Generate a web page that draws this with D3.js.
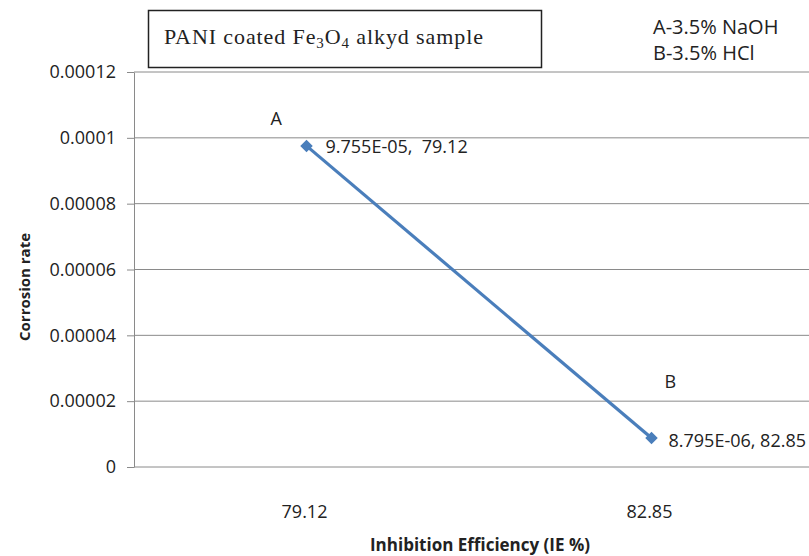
<!DOCTYPE html>
<html>
<head>
<meta charset="utf-8">
<script src="https://cdn.jsdelivr.net/npm/d3@7"></script>
<style>
  body { margin: 0; background: #fff; }
  text { font-family: "Open Sans", "DejaVu Sans", sans-serif; fill: #222; }
</style>
</head>
<body>
<div id="chart"></div>
<script>
const categories = ["79.12", "82.85"];
const rates = [9.755e-5, 8.795e-6];
const pointNames = ["A", "B"];
const pointLabels = ["9.755E-05,\u00a0 79.12", "8.795E-06, 82.85"];
const yTicks = [0, 0.00002, 0.00004, 0.00006, 0.00008, 0.0001, 0.00012];
const yTickLabels = ["0", "0.00002", "0.00004", "0.00006", "0.00008", "0.0001", "0.00012"];
const legendLines = ["A-3.5% NaOH", "B-3.5% HCl"];

const W = 809, H = 556;
const margin = {top: 72, right: -15, bottom: 89, left: 134},
    width = W - margin.left - margin.right,
    height = H - margin.top - margin.bottom;

const svg = d3.select("#chart")
    .append("svg")
    .attr("width", W)
    .attr("height", H);

const g = svg.append("g")
    .attr("transform", `translate(${margin.left},${margin.top})`);

let xScale = d3.scaleBand()
    .domain(categories)
    .range([0, width]);

let yScale = d3.scaleLinear()
    .domain([0, 0.00012])
    .range([height, 0]);

// gridlines
g.selectAll(".grid")
    .data(yTicks.slice(1))
    .enter().append("line")
    .attr("x1", 0)
    .attr("x2", W - margin.left)
    .attr("y1", d => yScale(d))
    .attr("y2", d => yScale(d))
    .attr("stroke", "#8a8a8a")
    .attr("stroke-width", 1);

// y axis
let yAxis = g.append("g")
    .call(d3.axisLeft(yScale)
        .tickValues(yTicks)
        .tickFormat((d, i) => yTickLabels[i])
        .tickSize(7)
        .tickSizeOuter(0));
yAxis.select(".domain").attr("stroke", "#8a8a8a");
yAxis.selectAll(".tick line").attr("stroke", "#8a8a8a");
yAxis.selectAll(".tick text")
    .attr("x", -18)
    .style("font-size", "18px")
    .style("font-family", "'Open Sans', sans-serif")
    .attr("fill", "#222");

// x axis line
g.append("line")
    .attr("x1", 0)
    .attr("x2", W - margin.left)
    .attr("y1", height)
    .attr("y2", height)
    .attr("stroke", "#8a8a8a");

g.selectAll(".xlab")
    .data(categories)
    .enter().append("text")
    .attr("x", d => xScale(d) + xScale.bandwidth() / 2 - 2)
    .attr("y", height + 51)
    .attr("text-anchor", "middle")
    .style("font-size", "18px")
    .text(d => d);

// line + markers
const pts = categories.map((c, i) => ({c: c, v: rates[i], name: pointNames[i], label: pointLabels[i]}));
let line = d3.line()
    .x(d => xScale(d.c) + xScale.bandwidth() / 2)
    .y(d => yScale(d.v));

g.append("path")
    .datum(pts)
    .attr("fill", "none")
    .attr("stroke", "#4a7ebb")
    .attr("stroke-width", 3.2)
    .attr("d", line);

g.selectAll(".mark")
    .data(pts)
    .enter().append("path")
    .attr("d", d3.symbol().type(d3.symbolDiamond2).size(100))
    .attr("transform", d => `translate(${xScale(d.c) + xScale.bandwidth() / 2},${yScale(d.v)})`)
    .attr("fill", "#4a7ebb");

g.selectAll(".plabel")
    .data(pts)
    .enter().append("text")
    .attr("x", d => xScale(d.c) + xScale.bandwidth() / 2 + (d.name === "A" ? 19 : 17))
    .attr("y", d => yScale(d.v) + (d.name === "A" ? 7 : 9))
    .style("font-size", "18px")
    .text(d => d.label);

g.selectAll(".pname")
    .data(pts)
    .enter().append("text")
    .attr("x", d => xScale(d.c) + xScale.bandwidth() / 2 + (d.name === "A" ? -36 : 13))
    .attr("y", d => yScale(d.v) + (d.name === "A" ? -21 : -50))
    .style("font-size", "18px")
    .text(d => d.name);

// axis titles
svg.append("text")
    .attr("x", 480)
    .attr("y", 551)
    .attr("text-anchor", "middle")
    .style("font-size", "17px")
    .style("font-weight", "bold")
    .text("Inhibition Efficiency (IE %)");

svg.append("text")
    .attr("transform", "translate(30,287) rotate(-90)")
    .attr("text-anchor", "middle")
    .style("font-size", "15px")
    .style("font-weight", "bold")
    .text("Corrosion rate");

// title box
svg.append("rect")
    .attr("x", 148.5)
    .attr("y", 10.5)
    .attr("width", 393)
    .attr("height", 57)
    .attr("fill", "#fff")
    .attr("stroke", "#222")
    .attr("stroke-width", 1.5);

let title = svg.append("text")
    .attr("x", 164)
    .attr("y", 44)
    .style("font-family", "'Liberation Serif', 'DejaVu Serif', serif")
    .style("font-size", "22px")
    .style("letter-spacing", "0.9px");
title.append("tspan").text("PANI coated Fe");
title.append("tspan").attr("dy", 4).style("font-size", "15px").text("3");
title.append("tspan").attr("dy", -4).text("O");
title.append("tspan").attr("dy", 4).style("font-size", "15px").text("4");
title.append("tspan").attr("dy", -4).text(" alkyd sample");

svg.selectAll(".legend")
    .data(legendLines)
    .enter().append("text")
    .attr("x", 653)
    .attr("y", (d, i) => 34 + i * 26)
    .style("font-size", "20px")
    .text(d => d);
</script>
</body>
</html>
